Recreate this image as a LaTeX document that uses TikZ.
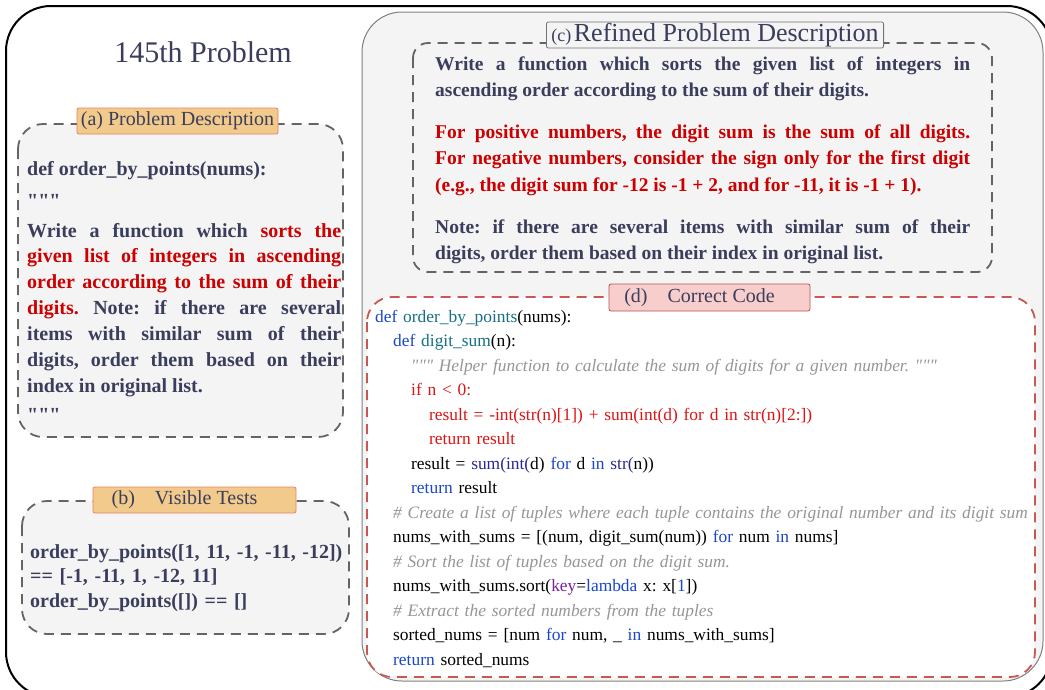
\documentclass[tikz,border=0pt]{standalone}
\usepackage{fontspec}
\setmainfont{Liberation Serif}
\newfontfamily\plainserif{Liberation Serif}
\usepackage{tikz}
\usepackage{xcolor}
\definecolor{navy}{RGB}{58,62,92}
\definecolor{hot}{RGB}{204,0,0}
\definecolor{boxgray}{RGB}{244,244,244}
\definecolor{dashgray}{RGB}{100,100,100}
\definecolor{tagfill}{RGB}{242,202,140}
\definecolor{tagline}{RGB}{232,130,100}
\definecolor{pinkfill}{RGB}{248,206,204}
\definecolor{pinkline}{RGB}{184,84,80}
\definecolor{reddash}{RGB}{200,88,84}
\definecolor{kwblue}{RGB}{25,70,205}
\definecolor{bltin}{RGB}{40,40,150}
\definecolor{fnteal}{RGB}{20,112,130}
\definecolor{kwpurple}{RGB}{125,30,165}
\definecolor{cmtgray}{RGB}{150,150,150}
\definecolor{codered}{RGB}{220,20,20}
\newcommand\pykw[1]{\textcolor{kwblue}{#1}}
\newcommand\pybi[1]{\textcolor{bltin}{#1}}
\newcommand\pyfn[1]{\textcolor{fnteal}{#1}}
\newcommand\pycmt[1]{\textcolor{cmtgray}{\itshape #1}}
\newcommand\pyind{\hspace*{18pt}}
\newcommand\docq{{\plainserif """}}
\tolerance=10000
\hbadness=10000
\frenchspacing

\begin{document}
\begin{tikzpicture}[x=1pt,y=-1pt,
    panel/.style={draw=dashgray,line width=1.8pt,dash pattern=on 10pt off 7pt,rounded corners=25pt,fill=boxgray},
    tagbox/.style={draw=tagline,fill=tagfill,line width=0.8pt,rounded corners=2pt,text=navy,inner sep=0pt,
      minimum width=201pt,minimum height=26pt,font=\fontsize{20}{24}\selectfont},
    prose/.style={anchor=base west,inner sep=0pt,text=navy,font=\bfseries\fontsize{20}{25.9}\selectfont}]
      \useasboundingbox (0,0) rectangle (1045,689);
      \clip (0,0) rectangle (1045,689);
      \draw[line width=2pt,rounded corners=45pt] (6,6) rectangle (1052,697);
      \draw[draw=black!50,fill=boxgray,line width=1pt,rounded corners=40pt] (362,12) rectangle (1043,681);
      \node[anchor=base,text=navy,font=\fontsize{30}{34}\selectfont] (title) at (203,62) {145th Problem};
      % left column
      \draw[panel] (18,124) rectangle (343,437);
      \node[tagbox] (taga) at (177.5,121) {(a) Problem Description};
      \node[prose] (defline) at (27,175) {def order\_by\_points(nums):};
      \node[prose] (openq) at (27,207) {\docq};
      \node[prose,text width=314pt,align=justify] (probtext) at (27,237)
          {Write a function which \textcolor{hot}{sorts the\linebreak given list of integers in ascending\linebreak
           order according to the sum of their\linebreak digits.} Note: if there are several\linebreak
           items with similar sum of their\linebreak digits, order them based on their\linebreak index in original list.};
      \node[prose] (closeq) at (27,421) {\docq};
      \draw[panel] (22,501) rectangle (349,634);
      \node[tagbox,minimum width=203pt] (tagb) at (194.5,500) {(b)\hspace{20pt}Visible Tests\hspace*{20pt}\null};
      \node[prose,text width=320pt,align=left,font=\bfseries\fontsize{20}{24.5}\selectfont] (tests) at (30,558)
          {order\_by\_points([1, 11, -1, -11, -12])\\ == [-1, -11, 1, -12, 11]\\ order\_by\_points([]) == []};
      % right column
      \draw[panel,rounded corners=15pt] (413,43) rectangle (992,272);
      \node[draw=black!55,fill=boxgray,line width=0.8pt,rounded corners=2pt,text=navy,inner xsep=5pt,inner ysep=0pt,
          minimum height=26pt] (tagc) at (715,35)
          {{\fontsize{18}{20}\selectfont(c)} {\fontsize{26}{28}\selectfont Refined Problem Description}};
      \node[prose,text width=535pt,align=justify,font=\bfseries\fontsize{19.5}{26.3}\selectfont] (refine1) at (435,70)
          {Write a function which sorts the given list of integers in\linebreak ascending order according to the sum of their digits.};
      \node[prose,text=hot,text width=535pt,align=justify,font=\bfseries\fontsize{19.5}{26.5}\selectfont] (refine2) at (435,138)
          {For positive numbers, the digit sum is the sum of all digits.\linebreak
           For negative numbers, consider the sign only for the first digit\linebreak
           (e.g., the digit sum for -12 is -1 + 2, and for -11, it is -1 + 1).};
      \node[prose,text width=535pt,align=justify,font=\bfseries\fontsize{19.5}{26.3}\selectfont] (refine3) at (435,233)
          {Note: if there are several items with similar sum of their\linebreak digits, order them based on their index in original list.};
      \draw[panel,draw=reddash,fill=white] (367,297) rectangle (1035,677);
      \node[tagbox,draw=pinkline,fill=pinkfill,minimum height=27pt] (tagd) at (709.5,297.5) {(d)\hspace{20pt}Correct Code\hspace*{20pt}\null};
      \node[anchor=base west,inner sep=0pt,text width=700pt,align=left,font=\fontsize{17.4}{24.5}\selectfont] (code) at (375,322)
          {\pykw{def} \pyfn{order\_by\_points}(nums):\\
           \pyind\pykw{def} \pyfn{digit\_sum}(n):\\
           \pyind\pyind\pycmt{\docq{} Helper function to calculate the sum of digits for a given number. \docq}\\
           \pyind\pyind\textcolor{codered}{if n < 0:}\\
           \pyind\pyind\pyind\textcolor{codered}{result = -int(str(n)[1]) + sum(int(d) for d in str(n)[2:])}\\
           \pyind\pyind\pyind\textcolor{codered}{return result}\\
           \pyind\pyind result = \pybi{sum(int(}d) \pykw{for} d \pykw{in} \pybi{str(}n))\\
           \pyind\pyind\pykw{return} result\\
           \pyind\pycmt{\# Create a list of tuples where each tuple contains the original number and its digit sum}\\
           \pyind nums\_with\_sums = [(num, digit\_sum(num)) \pykw{for} num \pykw{in} nums]\\
           \pyind\pycmt{\# Sort the list of tuples based on the digit sum.}\\
           \pyind nums\_with\_sums.sort(\textcolor{kwpurple}{key}=\pykw{lambda} x: x[\pykw{1}])\\
           \pyind\pycmt{\# Extract the sorted numbers from the tuples}\\
           \pyind sorted\_nums = [num \pykw{for} num, \_ \pykw{in} nums\_with\_sums]\\
           \pyind\pykw{return} sorted\_nums};
\end{tikzpicture}
\end{document}
